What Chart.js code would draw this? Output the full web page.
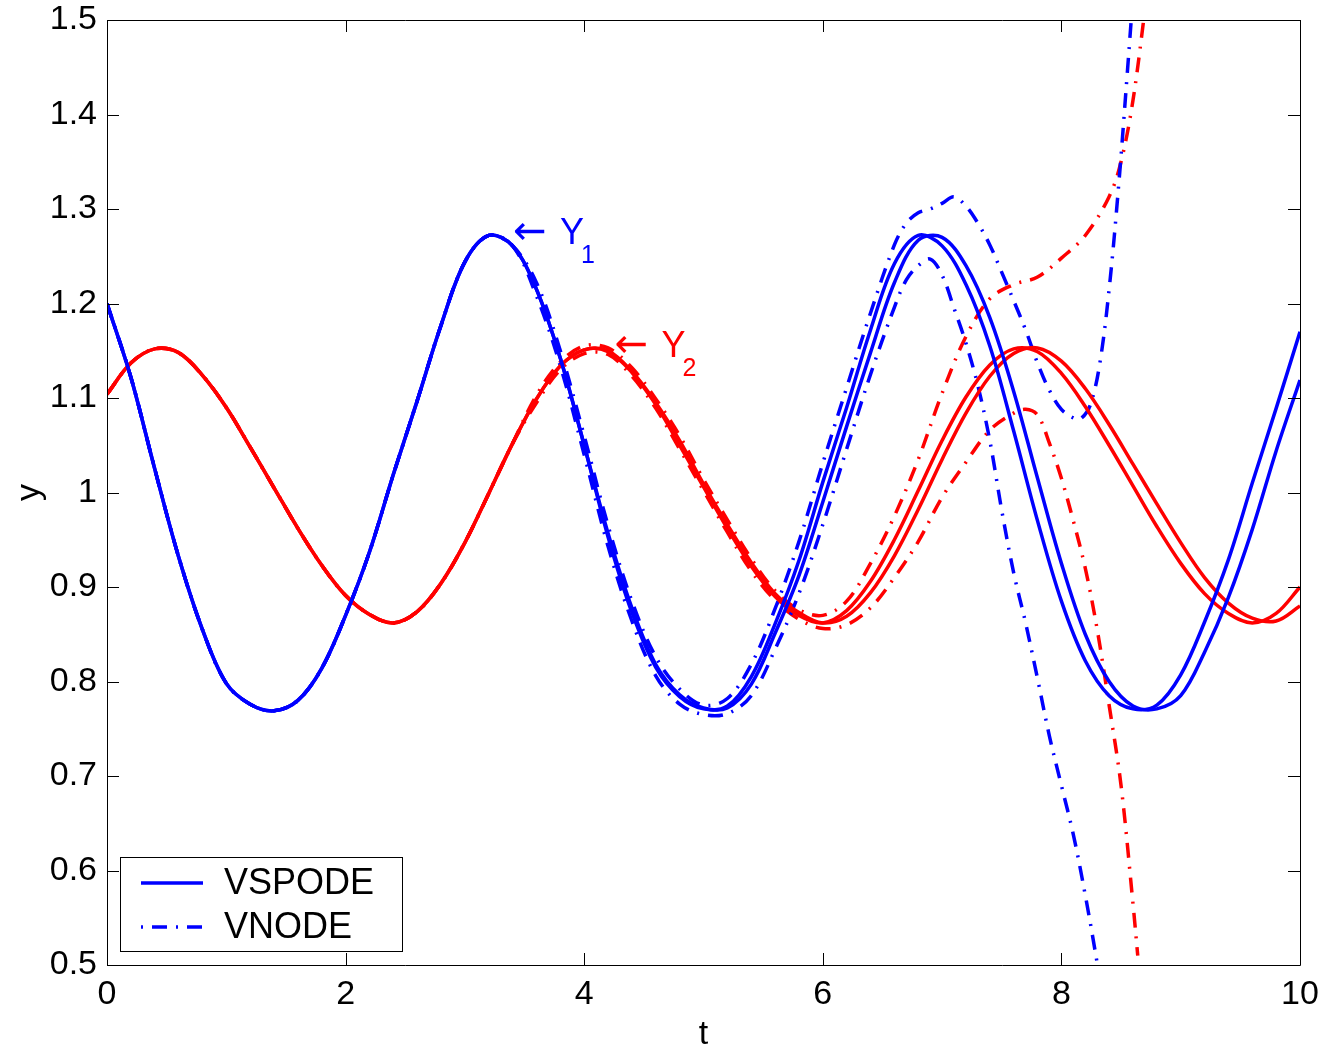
<!DOCTYPE html>
<html>
<head>
<meta charset="utf-8">
<script src="https://cdn.jsdelivr.net/npm/chart.js@4.4.0/dist/chart.umd.min.js"></script>
<style>
  html, body { margin: 0; padding: 0; background: #fff; }
</style>
</head>
<body>
<canvas id="bounds-chart" width="1327" height="1052"></canvas>
<script>
// time grid shared by the VSPODE bounds
const tGrid = [0, 0.2, 0.4, 0.6, 0.8, 1, 1.2, 1.4, 1.6, 1.8, 2, 2.2, 2.4, 2.6, 2.8, 3, 3.2, 3.4,
  3.6, 3.8, 4, 4.2, 4.4, 4.6, 4.8, 5, 5.2, 5.4, 5.6, 5.8, 6, 6.2, 6.4, 6.6, 6.8, 7, 7.2, 7.4,
  7.6, 7.8, 8, 8.2, 8.4, 8.6, 8.8, 9, 9.2, 9.4, 9.6, 9.8, 10];

// VSPODE, Y1 (two bounds)
const y1SpodeA = [1.200, 1.122, 1.025, 0.932, 0.855, 0.798, 0.776, 0.769, 0.780, 0.814, 0.870, 0.937,
  1.019, 1.097, 1.177, 1.244, 1.272, 1.261, 1.215, 1.142, 1.050, 0.953, 0.873, 0.815, 0.784, 0.771,
  0.774, 0.805, 0.861, 0.928, 1.011, 1.090, 1.172, 1.242, 1.272, 1.261, 1.220, 1.155, 1.065, 0.970,
  0.885, 0.822, 0.785, 0.771, 0.775, 0.807, 0.863, 0.929, 1.010, 1.089, 1.170];
const y1SpodeB = [1.200, 1.122, 1.025, 0.932, 0.855, 0.798, 0.776, 0.769, 0.780, 0.814, 0.870, 0.937,
  1.019, 1.097, 1.177, 1.244, 1.272, 1.261, 1.215, 1.142, 1.050, 0.957, 0.878, 0.818, 0.786, 0.772,
  0.772, 0.797, 0.851, 0.912, 0.990, 1.070, 1.148, 1.222, 1.267, 1.270, 1.240, 1.185, 1.107, 1.015,
  0.925, 0.850, 0.800, 0.774, 0.771, 0.785, 0.831, 0.889, 0.961, 1.044, 1.119];

// VSPODE, Y2 (two bounds)
const y2SpodeA = [1.104, 1.137, 1.152, 1.148, 1.124, 1.090, 1.048, 1.005, 0.962, 0.923, 0.891, 0.871,
  0.862, 0.874, 0.904, 0.947, 0.999, 1.052, 1.099, 1.134, 1.151, 1.149, 1.127, 1.093, 1.050, 1.006,
  0.962, 0.922, 0.890, 0.870, 0.862, 0.875, 0.906, 0.950, 1.002, 1.055, 1.101, 1.135, 1.152, 1.149,
  1.126, 1.091, 1.050, 1.007, 0.964, 0.925, 0.893, 0.872, 0.862, 0.872, 0.900];
const y2SpodeB = [1.104, 1.137, 1.152, 1.148, 1.124, 1.090, 1.048, 1.005, 0.962, 0.923, 0.891, 0.871,
  0.862, 0.874, 0.904, 0.947, 0.999, 1.052, 1.099, 1.134, 1.151, 1.150, 1.128, 1.095, 1.055, 1.009,
  0.966, 0.926, 0.893, 0.873, 0.862, 0.869, 0.894, 0.933, 0.982, 1.035, 1.084, 1.123, 1.147, 1.153,
  1.139, 1.110, 1.072, 1.030, 0.988, 0.947, 0.910, 0.883, 0.867, 0.864, 0.880];

// VNODE, Y1 upper / lower
const y1NodeUpperT = tGrid.slice(0, 34).concat([6.7, 6.8, 6.9, 7, 7.1, 7.2, 7.3, 7.4, 7.5, 7.6, 7.7,
  7.8, 7.9, 8, 8.1, 8.16, 8.24, 8.32, 8.4, 8.48, 8.55, 8.62]);
const y1NodeUpper = [1.200, 1.122, 1.025, 0.932, 0.855, 0.798, 0.776, 0.769, 0.780, 0.814, 0.870, 0.937,
  1.019, 1.097, 1.177, 1.244, 1.272, 1.261, 1.222, 1.150, 1.060, 0.965, 0.885, 0.826, 0.792, 0.775,
  0.782, 0.818, 0.877, 0.948, 1.031, 1.111, 1.190, 1.262, 1.285, 1.296, 1.300, 1.306, 1.313, 1.303,
  1.285, 1.262, 1.233, 1.203, 1.172, 1.137, 1.108, 1.088, 1.079, 1.078, 1.092, 1.135, 1.215, 1.325,
  1.440, 1.560];
const y1NodeLowerT = tGrid.slice(0, 34).concat([6.7, 6.8, 6.9, 7, 7.1, 7.2, 7.3, 7.4, 7.5, 7.6, 7.7,
  7.8, 7.9, 8, 8.1, 8.2, 8.3, 8.35]);
const y1NodeLower = [1.200, 1.122, 1.025, 0.932, 0.855, 0.798, 0.776, 0.769, 0.780, 0.814, 0.870, 0.937,
  1.019, 1.097, 1.177, 1.244, 1.272, 1.261, 1.208, 1.134, 1.040, 0.943, 0.864, 0.806, 0.776, 0.765,
  0.766, 0.785, 0.834, 0.893, 0.966, 1.046, 1.125, 1.196, 1.225, 1.240, 1.247, 1.230, 1.195, 1.158,
  1.113, 1.055, 0.981, 0.915, 0.862, 0.803, 0.742, 0.690, 0.638, 0.574, 0.502, 0.462];

// VNODE, Y2 upper / lower
const y2NodeUpperT = tGrid.slice(0, 43).concat([8.5, 8.6, 8.7]);
const y2NodeUpper = [1.104, 1.137, 1.152, 1.148, 1.124, 1.090, 1.048, 1.005, 0.962, 0.923, 0.891, 0.871,
  0.862, 0.874, 0.904, 0.947, 0.999, 1.052, 1.103, 1.138, 1.155, 1.153, 1.132, 1.099, 1.060, 1.014,
  0.971, 0.930, 0.896, 0.876, 0.870, 0.885, 0.925, 0.975, 1.035, 1.105, 1.165, 1.205, 1.220, 1.228,
  1.248, 1.272, 1.313, 1.350, 1.415, 1.510];
const y2NodeLowerT = tGrid.slice(0, 39).concat([7.7, 7.8, 7.9, 8, 8.1, 8.2, 8.3, 8.4, 8.5, 8.6, 8.64]);
const y2NodeLower = [1.104, 1.137, 1.152, 1.148, 1.124, 1.090, 1.048, 1.005, 0.962, 0.923, 0.891, 0.871,
  0.862, 0.874, 0.904, 0.947, 0.999, 1.052, 1.095, 1.130, 1.147, 1.146, 1.123, 1.089, 1.046, 1.002,
  0.958, 0.917, 0.886, 0.866, 0.856, 0.860, 0.878, 0.910, 0.948, 0.995, 1.032, 1.066, 1.084, 1.088,
  1.082, 1.052, 1.015, 0.970, 0.920, 0.855, 0.775, 0.690, 0.565, 0.510];

const legendLabels = ['VSPODE', 'VNODE'];
const noteNames = ['Y', 'Y'];
const noteSubs = ['1', '2'];
const noteT = [3.42, 4.27];
const noteY = [1.274, 1.154];

const BLUE = 'rgb(0, 0, 255)';
const RED = 'rgb(255, 0, 0)';
const FONT = '"Liberation Sans", Arial, Helvetica, sans-serif';
const dashDot = [15, 9, 2, 9];

function toPoints(ts, vs) {
  return ts.map((t, i) => ({x: t, y: vs[i]}));
}

function lineSet(label, ts, vs, color, dashed) {
  return {
    label: label,
    data: toPoints(ts, vs),
    borderColor: color,
    borderWidth: 3.5,
    borderDash: dashed ? dashDot : [],
    pointRadius: 0,
    tension: 0.35,
    fill: false
  };
}

// box, inward ticks, legend and the Y1/Y2 notes
const matlabAxes = {
  id: 'matlabAxes',
  afterDraw(chart) {
    const {ctx, chartArea, scales} = chart;
    const {left, right, top, bottom} = chartArea;
    const xs = scales.x, ys = scales.y;
    ctx.save();

    ctx.strokeStyle = '#000';
    ctx.lineWidth = 1;
    ctx.setLineDash([]);
    ctx.beginPath();
    ctx.rect(left + 0.5, top + 0.5, right - left, bottom - top);
    xs.ticks.forEach(tick => {
      const px = Math.round(xs.getPixelForValue(tick.value)) + 0.5;
      ctx.moveTo(px, bottom); ctx.lineTo(px, bottom - 12);
      ctx.moveTo(px, top); ctx.lineTo(px, top + 12);
    });
    ys.ticks.forEach(tick => {
      const py = Math.round(ys.getPixelForValue(tick.value)) + 0.5;
      ctx.moveTo(left, py); ctx.lineTo(left + 12, py);
      ctx.moveTo(right, py); ctx.lineTo(right - 12, py);
    });
    ctx.stroke();

    // notes with arrows
    const noteColors = [BLUE, RED];
    noteNames.forEach((name, i) => {
      const px = xs.getPixelForValue(noteT[i]);
      const py = ys.getPixelForValue(noteY[i]);
      ctx.fillStyle = noteColors[i];
      ctx.textAlign = 'left';
      ctx.font = '40px "DejaVu Sans", sans-serif';
      ctx.textBaseline = 'middle';
      ctx.fillText('\u2190', px - 2, py);
      ctx.font = '36px ' + FONT;
      ctx.textBaseline = 'alphabetic';
      ctx.fillText(name, px + 45, py + 10);
      ctx.font = '25px ' + FONT;
      ctx.fillText(noteSubs[i], px + 66, py + 29);
    });

    // legend box
    const bx = 120, by = 857, bw = 282, bh = 94;
    ctx.fillStyle = '#fff';
    ctx.fillRect(bx, by, bw, bh);
    ctx.strokeStyle = '#000';
    ctx.lineWidth = 1;
    ctx.strokeRect(bx + 0.5, by + 0.5, bw, bh);

    ctx.strokeStyle = BLUE;
    ctx.lineWidth = 3.5;
    ctx.beginPath();
    ctx.moveTo(141, 883); ctx.lineTo(203, 883);
    ctx.stroke();
    ctx.setLineDash(dashDot);
    ctx.lineDashOffset = 24;
    ctx.beginPath();
    ctx.moveTo(141, 927); ctx.lineTo(203, 927);
    ctx.stroke();
    ctx.setLineDash([]);

    ctx.fillStyle = '#000';
    ctx.font = '36px ' + FONT;
    ctx.textBaseline = 'middle';
    ctx.fillText(legendLabels[0], 224, 884);
    ctx.fillText(legendLabels[1], 224, 928);
    ctx.restore();
  }
};

new Chart(document.getElementById('bounds-chart').getContext('2d'), {
  type: 'line',
  data: {
    datasets: [
      lineSet('Y1 VSPODE a', tGrid, y1SpodeA, BLUE, false),
      lineSet('Y1 VSPODE b', tGrid, y1SpodeB, BLUE, false),
      lineSet('Y2 VSPODE a', tGrid, y2SpodeA, RED, false),
      lineSet('Y2 VSPODE b', tGrid, y2SpodeB, RED, false),
      lineSet('Y1 VNODE upper', y1NodeUpperT, y1NodeUpper, BLUE, true),
      lineSet('Y1 VNODE lower', y1NodeLowerT, y1NodeLower, BLUE, true),
      lineSet('Y2 VNODE upper', y2NodeUpperT, y2NodeUpper, RED, true),
      lineSet('Y2 VNODE lower', y2NodeLowerT, y2NodeLower, RED, true)
    ]
  },
  options: {
    responsive: false,
    animation: false,
    devicePixelRatio: 1,
    layout: {padding: {left: 0, top: 20, right: 27, bottom: 0}},
    plugins: {
      legend: {display: false},
      tooltip: {enabled: false}
    },
    scales: {
      x: {
        type: 'linear',
        min: 0,
        max: 10,
        afterFit: scale => {
          scale.height = 87;
          scale.paddingLeft = 0;
          scale.paddingRight = 0;
        },
        grid: {display: false, drawTicks: false},
        border: {display: false},
        ticks: {stepSize: 2, padding: 9, autoSkip: false, maxRotation: 0, color: '#000',
          font: {family: FONT, size: 34}},
        title: {display: true, text: 't', color: '#000', padding: {top: 0, bottom: 0},
          font: {family: FONT, size: 34, lineHeight: 1}}
      },
      y: {
        type: 'linear',
        min: 0.5,
        max: 1.5,
        afterFit: scale => {
          scale.width = 107;
          scale.paddingTop = 0;
          scale.paddingBottom = 0;
        },
        grid: {display: false, drawTicks: false},
        border: {display: false},
        ticks: {stepSize: 0.1, padding: 10, autoSkip: false, color: '#000',
          font: {family: FONT, size: 34},
          callback: value => String(Math.round(value * 10) / 10)},
        title: {display: true, text: 'y', color: '#000', padding: {top: 13, bottom: 0},
          font: {family: FONT, size: 34, lineHeight: 1}}
      }
    }
  },
  plugins: [matlabAxes]
});
</script>
</body>
</html>
